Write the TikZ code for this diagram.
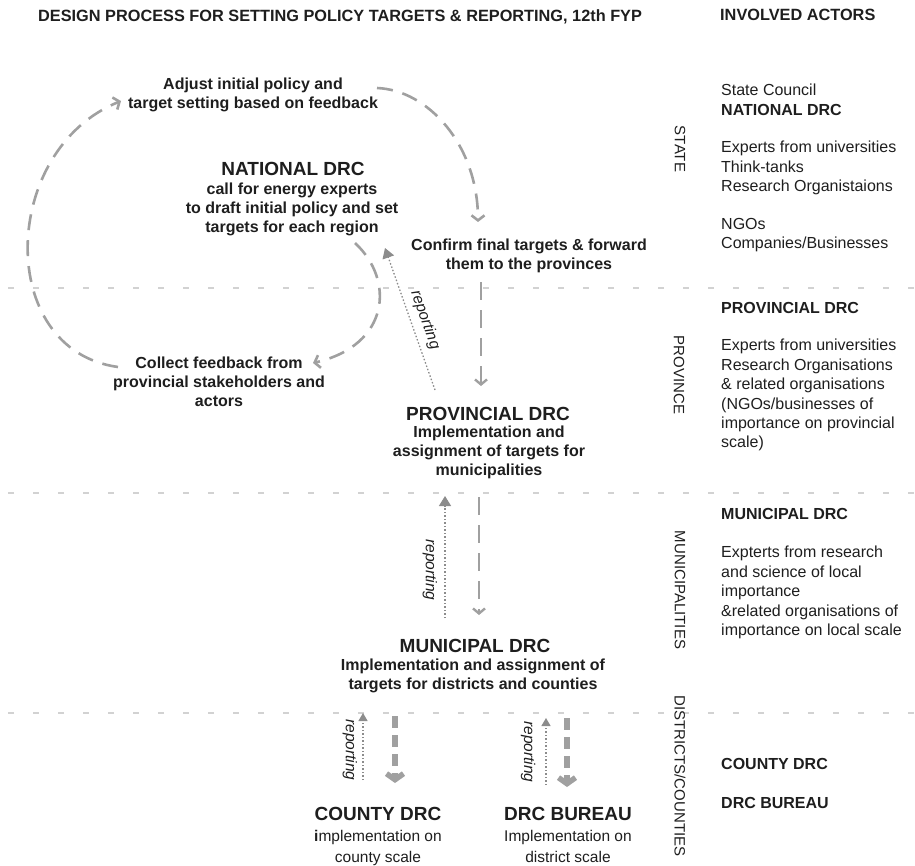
\documentclass[tikz,border=0pt]{standalone}
\usepackage{fontspec}
\setmainfont{Liberation Sans}
\usetikzlibrary{arrows.meta}
\definecolor{ink}{HTML}{1E1E1E}
\definecolor{flowgray}{HTML}{A0A0A0}
\definecolor{sepgray}{HTML}{D2D2D2}
\definecolor{repgray}{HTML}{8C8C8C}
\begin{document}
\begin{tikzpicture}[x=1pt,y=-1pt,
  capt/.style={font=\fontsize{16.3}{19}\selectfont\bfseries,text=ink,inner sep=0pt,anchor=base west},
  bodytext/.style={font=\fontsize{16}{19}\selectfont\bfseries,text=ink,align=center,inner sep=0pt,anchor=north},
  headtext/.style={font=\fontsize{19}{22}\selectfont\bfseries,text=ink,inner sep=0pt,anchor=base},
  smalltext/.style={font=\fontsize{15.5}{21}\selectfont,text=ink,align=center,inner sep=0pt,anchor=north},
  actor/.style={font=\fontsize{16}{19.4}\selectfont,text=ink,align=left,inner sep=0pt,anchor=north west},
  actorhead/.style={font=\fontsize{16}{19}\selectfont\bfseries,text=ink,inner sep=0pt,anchor=base west},
  tier/.style={font=\fontsize{15}{15}\selectfont,text=ink,rotate=-90,inner sep=0pt},
  replabel/.style={font=\fontsize{15.5}{15.5}\selectfont\itshape,text=ink,inner sep=0pt},
  sepline/.style={sepgray,line width=2.4pt,dash pattern=on 6pt off 19pt},
  cycleflow/.style={flowgray,line width=2.6pt,dash pattern=on 16pt off 10pt,-{Straight Barb[length=5pt,width=13pt]}},
  handdown/.style={flowgray,line width=2.4pt,dash pattern=on 18pt off 10pt,-{Straight Barb[length=5pt,width=12pt]}},
  thickdown/.style={flowgray,line width=5.5pt,dash pattern=on 12pt off 7pt,-{Straight Barb[length=6pt,width=17pt]}},
  repline/.style={repgray,line width=1.3pt,dash pattern=on 1.5pt off 2pt,-{Triangle[length=10pt,width=12pt]}},
]
\useasboundingbox (0,0) rectangle (915,865);

% level separators
\draw[sepline] (8,288) -- (915,288);
\draw[sepline] (8,493) -- (915,493);
\draw[sepline] (8,713) -- (915,713);

% headings
\node[capt] (title) at (38,21) {DESIGN PROCESS FOR SETTING POLICY TARGETS \& REPORTING, 12th FYP};
\node[capt] (actors) at (720,20) {INVOLVED ACTORS};

% administrative levels
\node[tier] (state) at (680,149) {STATE};
\node[tier] (province) at (679,375) {PROVINCE};
\node[tier] (munis) at (680,590) {MUNICIPALITIES};
\node[tier] (districts) at (680,776) {DISTRICTS/COUNTIES};

% actors per level
\node[actor] (a1) at (721,84) {State Council\\\textbf{NATIONAL DRC}};
\node[actor] (a2) at (721,141) {Experts from universities\\Think-tanks\\Research Organistaions};
\node[actor] (a3) at (721,218) {NGOs\\Companies/Businesses};
\node[actorhead] (a4) at (721,313) {PROVINCIAL DRC};
\node[actor] (a5) at (721,339) {Experts from universities\\Research Organisations\\\& related organisations\\(NGOs/businesses of\\importance on provincial\\scale)};
\node[actorhead] (a6) at (721,519) {MUNICIPAL DRC};
\node[actor] (a7) at (721,546) {Expterts from research\\and science of local\\importance\\\&related organisations of\\importance on local scale};
\node[actorhead] (a8) at (721,769) {COUNTY DRC};
\node[actorhead] (a9) at (721,808) {DRC BUREAU};

% process steps
\node[bodytext] (adjust) at (253,78) {Adjust initial policy and\\target setting based on feedback};
\node[headtext] (nathead) at (293,175) {NATIONAL DRC};
\node[bodytext] (natbody) at (292,183) {call for energy experts\\to draft initial policy and set\\targets for each region};
\node[bodytext] (confirm) at (529,239) {Confirm final targets \& forward\\them to the provinces};
\node[bodytext] (collect) at (219,357) {Collect feedback from\\provincial stakeholders and\\actors};
\node[headtext] (provhead) at (488,420) {PROVINCIAL DRC};
\node[bodytext] (provbody) at (489,426) {Implementation and\\assignment of targets for\\municipalities};
\node[headtext] (munihead) at (475,652) {MUNICIPAL DRC};
\node[bodytext] (munibody) at (473,659) {Implementation and assignment of\\targets for districts and counties};
\node[headtext] (countyhead) at (378,820) {COUNTY DRC};
\node[smalltext] (countybody) at (378,830) {\textbf{i}mplementation on\\county scale};
\node[headtext] (bureauhead) at (568,820) {DRC BUREAU};
\node[smalltext] (bureaubody) at (568,830) {Implementation on\\district scale};

% connector end points
\coordinate (c1s) at (118,367);
\coordinate (c1e) at (121,101);
\coordinate (c2s) at (377,88);
\coordinate (c2e) at (478,222);
\coordinate (c3s) at (355,243);
\coordinate (c3e) at (313,363);
\coordinate (r1s) at (435,390);
\coordinate (r1e) at (385,248);
\coordinate (d1s) at (481,282);
\coordinate (d1e) at (481,386);
\coordinate (r2s) at (445,618);
\coordinate (r2e) at (445,496);
\coordinate (d2s) at (479,497);
\coordinate (d2e) at (479,615);
\coordinate (r3s) at (363,780);
\coordinate (r3e) at (363,713);
\coordinate (d3s) at (395,716);
\coordinate (d3e) at (395,783);
\coordinate (r4s) at (546,785);
\coordinate (r4e) at (546,718);
\coordinate (d4s) at (567,718);
\coordinate (d4e) at (567,787);

% feedback cycle at state level
\draw[cycleflow] (c1s) .. controls (-5,350) and (0,150) .. (c1e);
\draw[cycleflow] (c2s) .. controls (428,90) and (478,145) .. (c2e);
\draw[cycleflow] (c3s) .. controls (395,280) and (390,345) .. (c3e);

% top-down assignment and bottom-up reporting
\draw[repline] (r1s) -- (r1e);
\node[replabel,rotate=-70.5] (rep1) at (425,320) {reporting};
\draw[handdown] (d1s) -- (d1e);

\draw[repline] (r2s) -- (r2e);
\node[replabel,rotate=-90] (rep2) at (430,570) {reporting};
\draw[handdown] (d2s) -- (d2e);

\draw[repline,-{Triangle[length=8pt,width=9pt]}] (r3s) -- (r3e);
\node[replabel,rotate=-90] (rep3) at (350,750) {reporting};
\draw[thickdown] (d3s) -- (d3e);

\draw[repline,-{Triangle[length=8pt,width=9pt]}] (r4s) -- (r4e);
\node[replabel,rotate=-90] (rep4) at (528,752) {reporting};
\draw[thickdown] (d4s) -- (d4e);
\end{tikzpicture}
\end{document}
